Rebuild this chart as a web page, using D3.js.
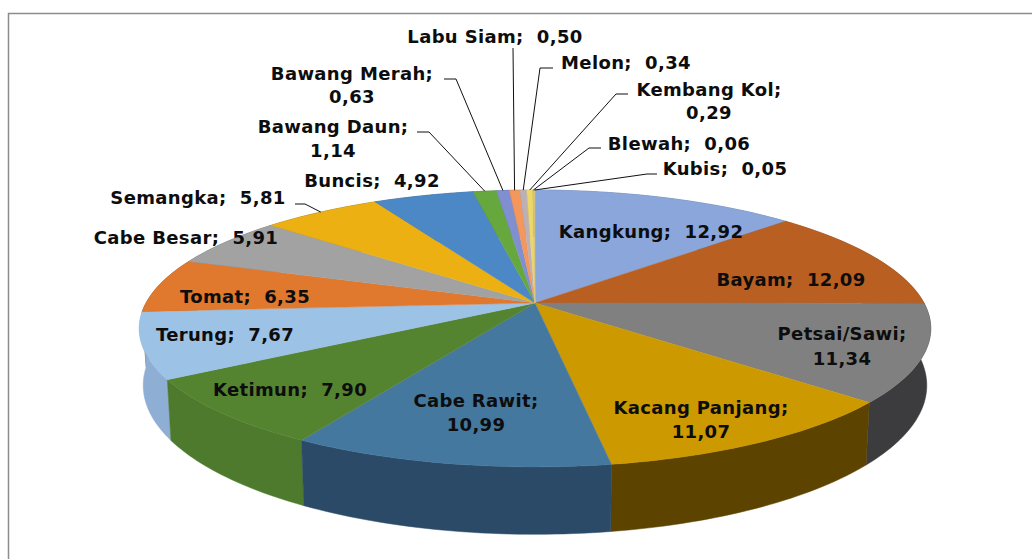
<!DOCTYPE html>
<html>
<head>
<meta charset="utf-8">
<script src="https://cdn.jsdelivr.net/npm/d3@7"></script>
<style>
	html, body { margin: 0; padding: 0; background: #fff; }
	svg { display: block; }
	.label { font-family: "DejaVu Sans", sans-serif; font-weight: 700; font-size: 18px; letter-spacing: 0.35px; fill: #0d0d0d; white-space: pre; }
	.leader { fill: none; stroke: #111; stroke-width: 1; }
</style>
</head>
<body>
<div id="pie-chart"></div>
<script>
// Data
var categories = ['Kangkung', 'Bayam', 'Petsai/Sawi', 'Kacang Panjang', 'Cabe Rawit', 'Ketimun', 'Terung', 'Tomat', 'Cabe Besar', 'Semangka', 'Buncis', 'Bawang Daun', 'Bawang Merah', 'Labu Siam', 'Melon', 'Kembang Kol', 'Blewah', 'Kubis'];
var values = [12.92, 12.09, 11.34, 11.07, 10.99, 7.90, 7.67, 6.35, 5.91, 5.81, 4.92, 1.14, 0.63, 0.50, 0.34, 0.29, 0.06, 0.05];

// Colours
var topColors = ['#8aa6da', '#b95f22', '#808080', '#cc9900', '#44789f', '#558431', '#9cc2e5', '#e0782e', '#a2a2a2', '#ecb013', '#4d88c6', '#66a83e', '#7f8fd0', '#f4975c', '#bcb0b4', '#ecd86a', '#e0c060', '#d8c880'];
var sideColors = ['#5a7099', '#7a3f16', '#3c3c3e', '#5c4400', '#2b4a68', '#4d7a2c', '#8eaed3', '#8a4a1c', '#666', '#8a6a08', '#2f5680', '#3e6a26', '#4f5a88', '#985e38', '#746c70', '#8e8440', '#8a7838', '#86803e'];

// Label layout: x, first baseline, wrapped or not, leader elbow
var labelLayout = {
	'Kangkung': { x: 651, y: 238 },
	'Bayam': { x: 791, y: 286 },
	'Petsai/Sawi': { x: 842, y: 340, wrap: true, dy: 25 },
	'Kacang Panjang': { x: 701, y: 414, wrap: true, dy: 24 },
	'Cabe Rawit': { x: 476, y: 407, wrap: true, dy: 24 },
	'Ketimun': { x: 290, y: 396 },
	'Terung': { x: 225, y: 341 },
	'Tomat': { x: 245, y: 303 },
	'Cabe Besar': { x: 186, y: 244 },
	'Semangka': { x: 198, y: 204, leader: [[295, 204], [305, 204]] },
	'Buncis': { x: 372, y: 187 },
	'Bawang Daun': { x: 333, y: 133, wrap: true, dy: 24, leader: [[417, 132], [429, 132]] },
	'Bawang Merah': { x: 352, y: 80, wrap: true, dy: 23, leader: [[444, 79], [456, 79]] },
	'Labu Siam': { x: 495, y: 43, leader: [[513, 48]] },
	'Melon': { x: 626, y: 69, leader: [[553, 68], [540, 68]] },
	'Kembang Kol': { x: 709, y: 96, wrap: true, dy: 23, leader: [[628, 94], [616, 94]] },
	'Blewah': { x: 679, y: 150, leader: [[601, 148], [589, 148]] },
	'Kubis': { x: 725, y: 175, leader: [[657, 174], [647, 174]] }
};

var render = function() {
	var width = 1032;
	var height = 559;

	// Tilted disc: perspective constants fitted to the picture
	var cx = 535;
	var radius = 389;
	var apexY = 303;
	var tilt = 78;
	var foreshorten = -0.184;
	var thickness = 55;
	var bottomShrink = 0.99;

	var svg = d3.select('#pie-chart')
		.append('svg')
		.attr('width', width)
		.attr('height', height);

	// Frame (only top and left edges are in the crop)
	svg.append('path')
		.attr('d', d3.line()([[8.5, height], [8.5, 13.5], [width, 13.5]]))
		.attr('fill', 'none')
		.attr('stroke', '#8c8c8c')
		.attr('stroke-width', 1.5);

	var pie = d3.pie().sort(null).value(function(d) { return d; });
	var slices = pie(values);

	var project = function(angle, r, depth) {
		var u = Math.sin(angle) * r;
		var v = -Math.cos(angle) * r;
		var w = 1 + foreshorten * v;
		var drop = depth ? thickness : 0;
		var shrink = depth ? bottomShrink : 1;
		return [
			cx + radius * u * shrink / w,
			(tilt * v + apexY + drop) / w
		];
	};

	var arcAngles = function(d) {
		var steps = Math.max(2, Math.ceil((d.endAngle - d.startAngle) / 0.02));
		return d3.range(steps + 1).map(function(i) {
			return d.startAngle + ((d.endAngle - d.startAngle) * i) / steps;
		});
	};

	var line = d3.line();
	var color = d3.scaleOrdinal().domain(categories).range(topColors);
	var sideColor = d3.scaleOrdinal().domain(categories).range(sideColors);

	// Rim sides, far ones first so near ones paint over them
	var byDepth = slices.slice().sort(function(a, b) {
		return (-Math.cos((a.startAngle + a.endAngle) / 2)) - (-Math.cos((b.startAngle + b.endAngle) / 2));
	});

	svg.append('g')
		.attr('class', 'sides')
		.selectAll('path')
		.data(byDepth)
		.enter()
		.append('path')
		.attr('fill', function(d, i) { return sideColor(categories[d.index]); })
		.attr('stroke', function(d, i) { return sideColor(categories[d.index]); })
		.attr('stroke-width', 0.5)
		.attr('d', function(d) {
			var angles = arcAngles(d);
			var upper = angles.map(function(a) { return project(a, 1, false); });
			var lower = angles.slice().reverse().map(function(a) { return project(a, 1, true); });
			return line(upper.concat(lower)) + 'Z';
		});

	// Top face
	svg.append('g')
		.attr('class', 'slices')
		.selectAll('path')
		.data(slices)
		.enter()
		.append('path')
		.attr('fill', function(d) { return color(categories[d.index]); })
		.attr('stroke', function(d) { return color(categories[d.index]); })
		.attr('stroke-width', 0.4)
		.attr('d', function(d) {
			var rim = arcAngles(d).map(function(a) { return project(a, 1, false); });
			return line([project(0, 0, false)].concat(rim)) + 'Z';
		});

	// Leader lines end on the rim at the middle of the slice
	svg.append('g')
		.attr('class', 'leaders')
		.selectAll('path')
		.data(slices.filter(function(d) { return labelLayout[categories[d.index]].leader; }))
		.enter()
		.append('path')
		.attr('class', 'leader')
		.attr('d', function(d) {
			var mid = (d.startAngle + d.endAngle) / 2;
			return line(labelLayout[categories[d.index]].leader.concat([project(mid, 1, false)]));
		});

	// Labels
	var labels = svg.append('g')
		.attr('class', 'labels')
		.selectAll('text')
		.data(slices)
		.enter()
		.append('text')
		.attr('class', 'label')
		.attr('text-anchor', 'middle')
		.attr('xml:space', 'preserve');

	labels.each(function(d) {
		var name = categories[d.index];
		var layout = labelLayout[name];
		var valueText = d.value.toFixed(2).replace('.', ',');
		var el = d3.select(this);

		if (layout.wrap) {
			el.append('tspan').attr('x', layout.x).attr('y', layout.y).text(name + ';');
			el.append('tspan').attr('x', layout.x).attr('y', layout.y + layout.dy).text(valueText);
		} else {
			el.append('tspan').attr('x', layout.x).attr('y', layout.y).text(name + ';  ' + valueText);
		}
	});
};

window.onload = render;
</script>
</body>
</html>
